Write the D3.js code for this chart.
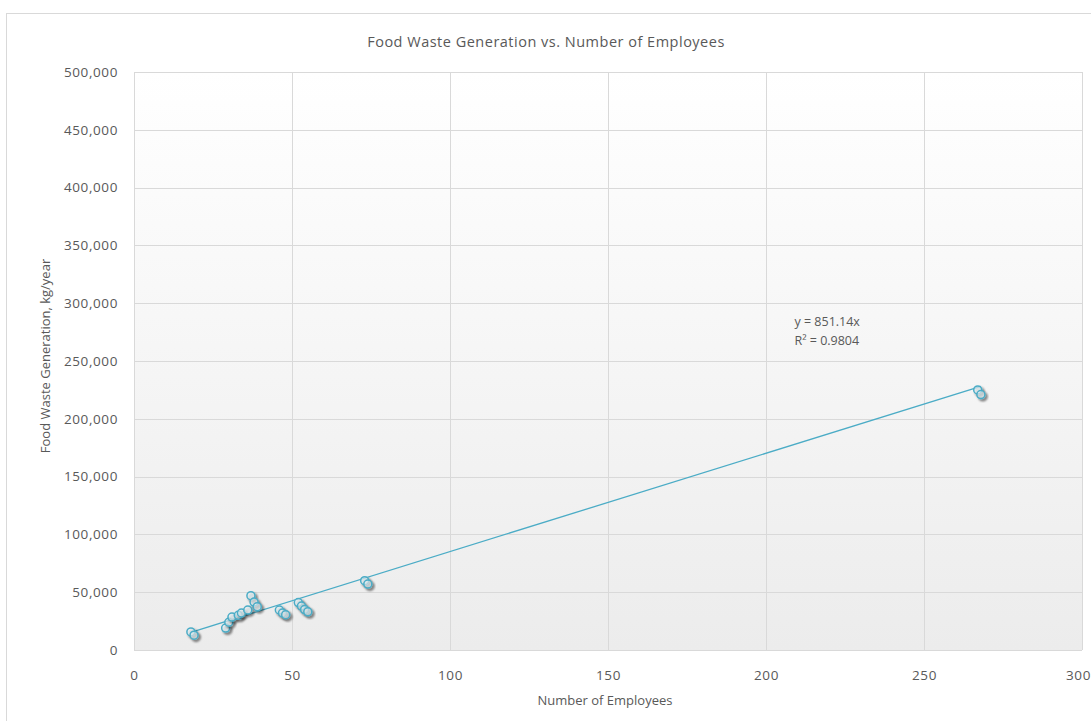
<!DOCTYPE html>
<html>
<head>
<meta charset="utf-8">
<script src="https://cdn.jsdelivr.net/npm/d3@7"></script>
<style>
    body { margin: 0; background: #fff; }
    text { font-family: 'Open Sans', sans-serif; fill: #595959; }
</style>
</head>
<body>
<div id="chart"></div>
<script>
// Data
const employees = [18, 19, 29, 30, 31, 33, 34, 36, 37, 38, 39, 46, 47, 48, 52, 53, 54, 55, 73, 74, 267, 268];
const foodWaste = [15600, 12800, 19000, 24000, 28500, 30000, 32000, 34600, 47000, 41500, 37500, 34600, 32000, 30500, 41000, 38000, 35000, 33000, 60000, 57000, 225000, 221000];
const xTicks = [0, 50, 100, 150, 200, 250, 300];
const yTicks = [0, 50000, 100000, 150000, 200000, 250000, 300000, 350000, 400000, 450000, 500000];
const slope = 851.14;
const rSquared = 0.9804;

const dataset = employees.map((e, i) => ({ employees: e, waste: foodWaste[i] }));

const xAccessor = d => d.employees;
const yAccessor = d => d.waste;

// Dimensions
let dimensions = {
    width: 1091,
    height: 721,
    margins: { top: 72, right: 9, bottom: 71, left: 134 },
};
dimensions.containerWidth = dimensions.width - dimensions.margins.left - dimensions.margins.right;
dimensions.containerHeight = dimensions.height - dimensions.margins.top - dimensions.margins.bottom;

// Draw Image
const svg = d3.select('#chart')
    .append('svg')
    .attr('width', dimensions.width)
    .attr('height', dimensions.height);

const defs = svg.append('defs');
const grad = defs.append('linearGradient')
    .attr('id', 'plotBg')
    .attr('x1', 0).attr('y1', 0).attr('x2', 0).attr('y2', 1);
grad.append('stop').attr('offset', '0%').attr('stop-color', '#ffffff');
grad.append('stop').attr('offset', '100%').attr('stop-color', '#ececec');

const shadow = defs.append('filter')
    .attr('id', 'shadow')
    .attr('x', '-50%').attr('y', '-50%').attr('width', '200%').attr('height', '200%');
shadow.append('feDropShadow')
    .attr('dx', 2).attr('dy', 2)
    .attr('stdDeviation', 1.3)
    .attr('flood-color', '#000')
    .attr('flood-opacity', 0.6);

// chart area border
svg.append('rect')
    .attr('x', 6.5)
    .attr('y', 13.5)
    .attr('width', dimensions.width)
    .attr('height', dimensions.height)
    .attr('fill', '#fff')
    .attr('stroke', '#d9d9d9');

const container = svg.append('g')
    .attr('transform', `translate(${dimensions.margins.left}, ${dimensions.margins.top})`);

// Scales
const xScale = d3.scaleLinear()
    .domain([0, 300])
    .range([0, dimensions.containerWidth]);

const yScale = d3.scaleLinear()
    .domain([0, 500000])
    .range([dimensions.containerHeight, 0]);

container.append('rect')
    .attr('width', dimensions.containerWidth)
    .attr('height', dimensions.containerHeight)
    .attr('fill', 'url(#plotBg)');

// Gridlines
container.append('g')
    .selectAll('line')
    .data(yTicks)
    .join('line')
    .attr('x1', 0)
    .attr('x2', dimensions.containerWidth)
    .attr('y1', d => Math.round(yScale(d)) + 0.5)
    .attr('y2', d => Math.round(yScale(d)) + 0.5)
    .attr('stroke', '#d9d9d9');

container.append('g')
    .selectAll('line')
    .data(xTicks)
    .join('line')
    .attr('x1', d => Math.round(xScale(d)) + 0.5)
    .attr('x2', d => Math.round(xScale(d)) + 0.5)
    .attr('y1', 0)
    .attr('y2', dimensions.containerHeight)
    .attr('stroke', '#d9d9d9');

// Axes
const xAxis = d3.axisBottom(xScale)
    .tickValues(xTicks)
    .tickSize(0)
    .tickPadding(20);
const yAxis = d3.axisLeft(yScale)
    .tickValues(yTicks)
    .tickSize(0)
    .tickPadding(16)
    .tickFormat(d3.format(','));

const xAxisGroup = container.append('g')
    .attr('transform', `translate(0, ${dimensions.containerHeight})`)
    .call(xAxis);
const yAxisGroup = container.append('g')
    .call(yAxis);

[xAxisGroup, yAxisGroup].forEach(g => {
    g.select('.domain').remove();
    g.selectAll('text')
        .style('font-size', '13.5px')
        .style('letter-spacing', '0.6px')
        .style('font-family', "'Open Sans', sans-serif")
        .attr('fill', '#666');
});
// keep the last x label inside the frame
xAxisGroup.selectAll('text')
    .filter(d => d === 300)
    .attr('dx', -4);

// Trendline
const xExtent = d3.extent(dataset, xAccessor);
container.append('line')
    .attr('x1', xScale(xExtent[0]))
    .attr('y1', yScale(slope * xExtent[0]))
    .attr('x2', xScale(xExtent[1]))
    .attr('y2', yScale(slope * xExtent[1]))
    .attr('stroke', '#4bacc6')
    .attr('stroke-width', 1.3);

// Points
container.append('g')
    .selectAll('circle')
    .data(dataset)
    .join('circle')
    .attr('cx', d => xScale(xAccessor(d)))
    .attr('cy', d => yScale(yAccessor(d)))
    .attr('r', 4)
    .attr('fill', '#e6f4f8')
    .attr('fill-opacity', 0.6)
    .attr('stroke', '#4bacc6')
    .attr('stroke-width', 1.5)
    .attr('filter', 'url(#shadow)');

// Trendline label
const label = container.append('text')
    .attr('x', xScale(209))
    .attr('y', yScale(280000))
    .style('font-size', '12.5px')
    .attr('fill', '#666');
label.append('tspan').text(`y = ${slope}x`);
label.append('tspan')
    .attr('x', xScale(209))
    .attr('dy', 19)
    .text(`R² = ${rSquared}`);

// Titles
svg.append('text')
    .attr('x', 546)
    .attr('y', 47)
    .attr('text-anchor', 'middle')
    .style('font-size', '14.5px')
    .style('letter-spacing', '0.5px')
    .attr('fill', '#808080')
    .text('Food Waste Generation vs. Number of Employees');

svg.append('text')
    .attr('x', 605)
    .attr('y', 705)
    .attr('text-anchor', 'middle')
    .style('font-size', '13px')
    .attr('fill', '#666')
    .text('Number of Employees');

svg.append('text')
    .attr('transform', `translate(50, ${dimensions.margins.top + yScale(250000) - 5}) rotate(-90)`)
    .attr('text-anchor', 'middle')
    .style('font-size', '13px')
    .attr('fill', '#666')
    .text('Food Waste Generation, kg/year');
</script>
</body>
</html>
